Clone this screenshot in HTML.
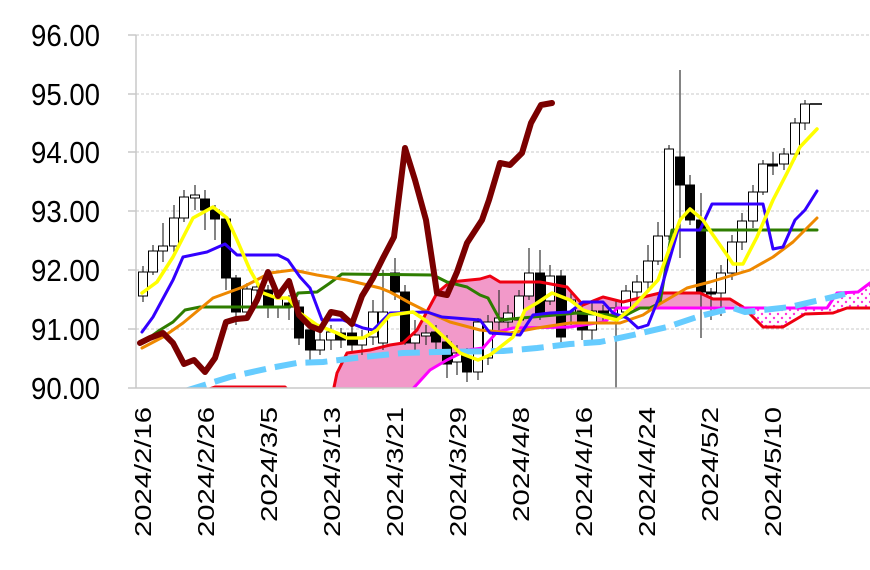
<!DOCTYPE html>
<html><head><meta charset="utf-8"><style>
html,body{margin:0;padding:0;background:#fff;}
svg{display:block;font-family:"Liberation Sans","Noto Sans CJK JP",sans-serif;}
</style></head><body>
<svg width="870" height="570" viewBox="0 0 870 570" xmlns="http://www.w3.org/2000/svg">
<defs>
<clipPath id="pc"><rect x="130" y="30" width="740" height="358"/></clipPath>
<pattern id="dots" width="8" height="8" patternUnits="userSpaceOnUse">
<rect width="8" height="8" fill="#fff"/>
<circle cx="2" cy="2" r="1.2" fill="#ff33dd"/><circle cx="6" cy="6" r="1.2" fill="#ff33dd"/>
</pattern>
</defs>
<rect width="870" height="570" fill="#fff"/>
<g stroke="#c8c8c8" stroke-width="1" stroke-dasharray="3,2">
<line x1="136" y1="35" x2="870" y2="35"/><line x1="136" y1="94" x2="870" y2="94"/>
<line x1="136" y1="152" x2="870" y2="152"/><line x1="136" y1="211" x2="870" y2="211"/>
<line x1="136" y1="270" x2="870" y2="270"/><line x1="136" y1="329" x2="870" y2="329"/>
</g>
<g stroke="#c8c8c8" stroke-width="1.5">
<line x1="128" y1="35" x2="136" y2="35"/><line x1="128" y1="94" x2="136" y2="94"/><line x1="128" y1="152" x2="136" y2="152"/><line x1="128" y1="211" x2="136" y2="211"/><line x1="128" y1="270" x2="136" y2="270"/><line x1="128" y1="329" x2="136" y2="329"/>
</g>
<line x1="136" y1="35" x2="136" y2="388" stroke="#c8c8c8" stroke-width="1.5"/>
<g font-size="31" fill="#000" text-anchor="end">
<text x="100" y="46" textLength="69" lengthAdjust="spacingAndGlyphs">96.00</text><text x="100" y="105" textLength="69" lengthAdjust="spacingAndGlyphs">95.00</text>
<text x="100" y="163" textLength="69" lengthAdjust="spacingAndGlyphs">94.00</text><text x="100" y="222" textLength="69" lengthAdjust="spacingAndGlyphs">93.00</text>
<text x="100" y="281" textLength="69" lengthAdjust="spacingAndGlyphs">92.00</text><text x="100" y="340" textLength="69" lengthAdjust="spacingAndGlyphs">91.00</text>
<text x="100" y="399" textLength="69" lengthAdjust="spacingAndGlyphs">90.00</text>
</g>
<g clip-path="url(#pc)">
<polygon fill="#f299c9" points="333,388 337,373 347,353 370,350 390,345 403,343 417,330 437,293 450,282 480,279 490,276 500,282 540,282 567,287 583,305 603,297 623,302 660,293 700,293 713,299 730,299 740,306 617,308 607,320 603,322 570,327 513,328 497,332 483,348 467,350 447,360 430,370 415,388"/>
<polygon fill="url(#dots)" points="740,306 743,307 763,327 783,327 805,314 833,313 847,308 870,308 870,283 858,292 837,293 827,308 740,308"/>
<g stroke="#333" stroke-width="1.2">
<line x1="143" y1="266" x2="143" y2="302"/><line x1="153" y1="245" x2="153" y2="275"/><line x1="163" y1="223" x2="163" y2="262"/><line x1="174" y1="205" x2="174" y2="252"/><line x1="184" y1="190" x2="184" y2="222"/><line x1="195" y1="185" x2="195" y2="210"/><line x1="205" y1="190" x2="205" y2="230"/><line x1="215" y1="205" x2="215" y2="240"/><line x1="226" y1="218" x2="226" y2="290"/><line x1="236" y1="275" x2="236" y2="325"/><line x1="247" y1="283" x2="247" y2="320"/><line x1="257" y1="280" x2="257" y2="300"/><line x1="268" y1="285" x2="268" y2="318"/><line x1="278" y1="290" x2="278" y2="318"/><line x1="289" y1="295" x2="289" y2="320"/><line x1="299" y1="300" x2="299" y2="345"/><line x1="310" y1="322" x2="310" y2="362"/><line x1="320" y1="330" x2="320" y2="355"/><line x1="331" y1="325" x2="331" y2="350"/><line x1="341" y1="328" x2="341" y2="348"/><line x1="352" y1="325" x2="352" y2="352"/><line x1="362" y1="330" x2="362" y2="355"/><line x1="373" y1="300" x2="373" y2="345"/><line x1="383" y1="270" x2="383" y2="350"/><line x1="395" y1="258" x2="395" y2="300"/><line x1="405" y1="285" x2="405" y2="345"/><line x1="415" y1="320" x2="415" y2="350"/><line x1="426" y1="325" x2="426" y2="345"/><line x1="436" y1="325" x2="436" y2="355"/><line x1="447" y1="335" x2="447" y2="378"/><line x1="457" y1="345" x2="457" y2="375"/><line x1="467" y1="348" x2="467" y2="382"/><line x1="478" y1="318" x2="478" y2="380"/><line x1="488" y1="315" x2="488" y2="365"/><line x1="499" y1="290" x2="499" y2="330"/><line x1="508" y1="305" x2="508" y2="330"/><line x1="519" y1="290" x2="519" y2="325"/><line x1="529" y1="248" x2="529" y2="300"/><line x1="540" y1="250" x2="540" y2="320"/><line x1="550" y1="265" x2="550" y2="305"/><line x1="561" y1="270" x2="561" y2="345"/><line x1="571" y1="292" x2="571" y2="325"/><line x1="582" y1="305" x2="582" y2="340"/><line x1="592" y1="300" x2="592" y2="345"/><line x1="603" y1="305" x2="603" y2="322"/><line x1="616" y1="300" x2="616" y2="388"/><line x1="626" y1="285" x2="626" y2="318"/><line x1="637" y1="275" x2="637" y2="300"/><line x1="648" y1="245" x2="648" y2="290"/><line x1="658" y1="222" x2="658" y2="265"/><line x1="669" y1="145" x2="669" y2="240"/><line x1="680" y1="70" x2="680" y2="258"/><line x1="690" y1="175" x2="690" y2="225"/><line x1="701" y1="193" x2="701" y2="338"/><line x1="711" y1="288" x2="711" y2="320"/><line x1="721" y1="265" x2="721" y2="316"/><line x1="732" y1="235" x2="732" y2="280"/><line x1="742" y1="213" x2="742" y2="250"/><line x1="753" y1="185" x2="753" y2="228"/><line x1="763" y1="160" x2="763" y2="195"/><line x1="773" y1="152" x2="773" y2="175"/><line x1="784" y1="148" x2="784" y2="170"/><line x1="795" y1="118" x2="795" y2="160"/><line x1="805" y1="100" x2="805" y2="130"/><line x1="810" y1="104" x2="822" y2="104" stroke-width="2"/>
</g>
<g stroke="#000" stroke-width="1">
<rect x="138.5" y="272" width="9" height="24" fill="#fff"/><rect x="148.5" y="251" width="9" height="21" fill="#fff"/><rect x="158.5" y="246" width="9" height="5" fill="#fff"/><rect x="169.5" y="218" width="9" height="28" fill="#fff"/><rect x="179.5" y="197" width="9" height="21" fill="#fff"/><rect x="190.5" y="195" width="9" height="3" fill="#fff"/>
<rect x="200.5" y="199" width="9" height="11" fill="#000"/><rect x="210.5" y="210" width="9" height="9" fill="#000"/><rect x="221.5" y="219" width="9" height="59" fill="#000"/><rect x="231.5" y="278" width="9" height="34" fill="#000"/>
<rect x="242.5" y="289" width="9" height="23" fill="#fff"/><rect x="252.5" y="287" width="9" height="3" fill="#fff"/><rect x="263.5" y="290" width="9" height="17" fill="#000"/><rect x="273.5" y="297" width="9" height="10" fill="#fff"/><rect x="284.5" y="303" width="9" height="4" fill="#000"/><rect x="294.5" y="307" width="9" height="31" fill="#000"/><rect x="305.5" y="330" width="9" height="20" fill="#000"/><rect x="315.5" y="340" width="9" height="10" fill="#fff"/><rect x="326.5" y="332" width="9" height="8" fill="#fff"/><rect x="336.5" y="333" width="9" height="7" fill="#000"/><rect x="347.5" y="333" width="9" height="12" fill="#000"/><rect x="357.5" y="337" width="9" height="8" fill="#fff"/><rect x="368.5" y="312" width="9" height="25" fill="#fff"/><rect x="378.5" y="312" width="9" height="31" fill="#fff"/>
<rect x="390.5" y="273" width="9" height="19" fill="#000"/><rect x="400.5" y="292" width="9" height="51" fill="#000"/><rect x="410.5" y="335" width="9" height="8" fill="#fff"/><rect x="421.5" y="333" width="9" height="3" fill="#fff"/><rect x="431.5" y="332" width="9" height="10" fill="#000"/><rect x="442.5" y="342" width="9" height="22" fill="#000"/><rect x="452.5" y="353" width="9" height="9" fill="#fff"/><rect x="462.5" y="356" width="9" height="16" fill="#000"/><rect x="473.5" y="322" width="9" height="50" fill="#fff"/><rect x="483.5" y="322" width="9" height="36" fill="#fff"/><rect x="494.5" y="318" width="9" height="4" fill="#fff"/><rect x="503.5" y="313" width="9" height="9" fill="#fff"/>
<rect x="514.5" y="296" width="9" height="24" fill="#fff"/><rect x="524.5" y="273" width="9" height="23" fill="#fff"/><rect x="535.5" y="273" width="9" height="40" fill="#000"/><rect x="545.5" y="276" width="9" height="25" fill="#fff"/><rect x="556.5" y="276" width="9" height="61" fill="#000"/><rect x="566.5" y="300" width="9" height="12" fill="#fff"/><rect x="577.5" y="311" width="9" height="19" fill="#000"/><rect x="587.5" y="311" width="9" height="19" fill="#fff"/><rect x="598.5" y="311" width="9" height="5" fill="#000"/><rect x="608.5" y="308" width="9" height="10" fill="#fff"/>
<rect x="621.5" y="291" width="9" height="21" fill="#fff"/><rect x="632.5" y="282" width="9" height="10" fill="#fff"/><rect x="643.5" y="261" width="9" height="21" fill="#fff"/><rect x="653.5" y="236" width="9" height="25" fill="#fff"/><rect x="664.5" y="149" width="9" height="87" fill="#fff"/><rect x="675.5" y="157" width="9" height="28" fill="#000"/><rect x="685.5" y="185" width="9" height="35" fill="#000"/><rect x="696.5" y="220" width="9" height="72" fill="#000"/><rect x="706.5" y="292" width="9" height="2" fill="#000"/><rect x="716.5" y="273" width="9" height="20" fill="#fff"/><rect x="727.5" y="242" width="9" height="31" fill="#fff"/><rect x="737.5" y="221" width="9" height="21" fill="#fff"/><rect x="748.5" y="192" width="9" height="29" fill="#fff"/><rect x="758.5" y="164" width="9" height="28" fill="#fff"/><rect x="768.5" y="164" width="9" height="2" fill="#000"/><rect x="779.5" y="154" width="9" height="10" fill="#fff"/><rect x="790.5" y="123" width="9" height="31" fill="#fff"/><rect x="800.5" y="104" width="9" height="19" fill="#fff"/>
</g>
<g fill="none" stroke-linejoin="round" stroke-linecap="round">
<polyline stroke="#ee0011" stroke-width="3" points="195,394 215,387 285,387 292,394"/>
<polyline stroke="#ee0011" stroke-width="3" points="333,392 337,373 347,353 370,350 390,345 403,343 417,330 437,293 450,282 480,279 490,276 500,282 540,282 567,287 583,305 603,297 623,302 660,293 700,293 713,299 730,299 743,307 763,327 783,327 805,314 833,313 847,308 870,308"/>
<polyline stroke="#ff00ff" stroke-width="3" points="410,392 430,370 447,360 467,350 483,348 497,332 513,328 570,327 603,322 607,320 617,308 827,308 837,293 858,292 870,283"/>
<polyline stroke="#66ccff" stroke-width="6" stroke-dasharray="22,9" stroke-linecap="butt" points="185,391 230,377 270,368 297,363 323,362 363,357 403,353 437,352 503,351 537,348 570,344 600,342 633,335 667,327 700,316 733,308 745,312 790,307 820,300 845,294"/>
<polyline stroke="#2e7d00" stroke-width="3" points="142,343 160,330 173,322 185,310 200,307 290,307 298,293 317,292 330,283 342,274 433,275 447,282 467,287 480,295 488,298 500,320 577,313 610,315 620,318 640,308 650,308 660,303 672,230 817,230"/>
<polyline stroke="#ee8800" stroke-width="3" points="142,348 163,337 183,323 213,298 243,287 270,273 293,270 317,275 347,280 380,288 390,292 410,303 430,313 450,322 480,330 510,333 537,328 570,323 603,323 620,323 643,315 658,305 687,288 710,282 750,270 773,257 793,242 817,218"/>
<polyline stroke="#3300ff" stroke-width="3" points="142,332 153,317 173,280 183,257 207,252 225,244 237,255 278,255 288,260 300,277 310,288 322,320 343,320 363,328 373,330 390,313 427,312 442,317 480,320 490,333 520,335 533,315 550,313 570,312 583,302 603,302 613,313 627,318 638,328 648,325 658,300 678,230 700,230 712,204 763,204 773,249 783,247 795,220 805,210 817,191"/>
<polyline stroke="#ffff00" stroke-width="3.5" points="142,293 157,282 173,257 193,218 213,207 227,218 237,240 250,270 263,293 277,298 288,298 300,313 317,325 337,333 347,338 363,338 377,330 390,315 413,312 428,322 447,340 460,353 478,360 490,355 513,337 525,310 537,303 552,293 570,300 583,310 605,317 617,320 633,307 658,280 670,247 680,220 690,209 703,220 713,235 727,255 733,264 743,264 757,237 773,200 787,173 800,147 817,129"/>
<polyline stroke="#7a0000" stroke-width="6" points="140,343 150,338 163,333 173,343 184,364 194,360 205,372 215,358 226,322 236,319 247,318 257,300 268,272 278,296 289,281 299,315 310,326 320,330 331,312 341,314 352,324 362,296 373,278 383,258 394,237 405,148 415,180 426,220 437,293 447,295 457,272 467,243 482,220 489,200 500,163 510,165 522,153 531,123 541,105 552,103"/>
</g>
</g>
<line x1="128" y1="388" x2="870" y2="388" stroke="#c8c8c8" stroke-width="1.5"/>
<g font-size="23" fill="#000" text-anchor="end">
<text transform="translate(151,407) rotate(-90)" textLength="130" lengthAdjust="spacingAndGlyphs">2024/2/16</text>
<text transform="translate(214,407) rotate(-90)" textLength="130" lengthAdjust="spacingAndGlyphs">2024/2/26</text>
<text transform="translate(277,407) rotate(-90)" textLength="115" lengthAdjust="spacingAndGlyphs">2024/3/5</text>
<text transform="translate(340,407) rotate(-90)" textLength="130" lengthAdjust="spacingAndGlyphs">2024/3/13</text>
<text transform="translate(403,407) rotate(-90)" textLength="130" lengthAdjust="spacingAndGlyphs">2024/3/21</text>
<text transform="translate(466,407) rotate(-90)" textLength="130" lengthAdjust="spacingAndGlyphs">2024/3/29</text>
<text transform="translate(529,407) rotate(-90)" textLength="115" lengthAdjust="spacingAndGlyphs">2024/4/8</text>
<text transform="translate(592,407) rotate(-90)" textLength="130" lengthAdjust="spacingAndGlyphs">2024/4/16</text>
<text transform="translate(655,407) rotate(-90)" textLength="130" lengthAdjust="spacingAndGlyphs">2024/4/24</text>
<text transform="translate(718,407) rotate(-90)" textLength="115" lengthAdjust="spacingAndGlyphs">2024/5/2</text>
<text transform="translate(781,407) rotate(-90)" textLength="130" lengthAdjust="spacingAndGlyphs">2024/5/10</text>
</g>
</svg>
</body></html>
